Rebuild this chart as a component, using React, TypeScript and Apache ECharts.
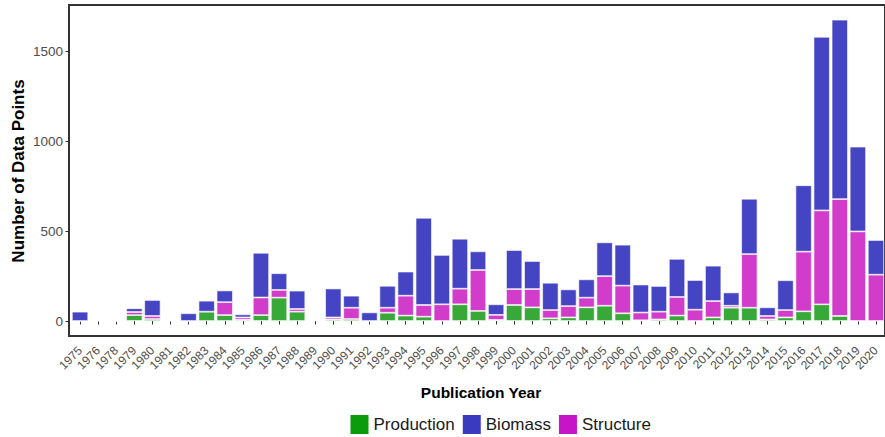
import React, { useEffect, useRef } from "react";
import * as echarts from "echarts";

const years = [
  "1975", "1976", "1978", "1979", "1980", "1981", "1982", "1983", "1984", "1985",
  "1986", "1987", "1988", "1989", "1990", "1991", "1992", "1993", "1994", "1995",
  "1996", "1997", "1998", "1999", "2000", "2001", "2002", "2003", "2004", "2005",
  "2006", "2007", "2008", "2009", "2010", "2011", "2012", "2013", "2014", "2015",
  "2016", "2017", "2018", "2019", "2020",
];
const production = [
  0, 2, 0, 33, 11, 2, 0, 52, 33, 7,
  33, 130, 52, 4, 9, 11, 0, 46, 30, 24,
  0, 93, 56, 6, 89, 76, 15, 20, 76, 85,
  43, 4, 9, 30, 0, 20, 74, 74, 9, 20,
  54, 93, 28, 0, 0,
];
const structure = [
  0, 0, 0, 17, 17, 0, 0, 0, 72, 13,
  98, 43, 15, 0, 11, 63, 0, 28, 111, 65,
  93, 87, 228, 28, 89, 102, 46, 63, 54, 165,
  154, 43, 43, 104, 63, 91, 11, 299, 19, 41,
  332, 523, 651, 499, 258,
];
const biomass = [
  52, 0, 0, 21, 89, 4, 43, 61, 65, 17,
  249, 93, 102, 0, 161, 67, 48, 122, 134, 486,
  275, 278, 104, 59, 217, 156, 152, 93, 102, 188,
  228, 156, 143, 212, 165, 197, 74, 308, 48, 166,
  370, 967, 999, 472, 193,
];
const yTicks = [0, 500, 1000, 1500];
const legendNames = ["Production", "Biomass", "Structure"];

const FONT = "'Liberation Sans', Arial, Helvetica, sans-serif";

export default function App() {
  const ref = useRef<HTMLDivElement>(null);
  useEffect(() => {
    document.body.style.margin = "0";
    const chart = echarts.init(ref.current!, null, { renderer: "svg" });
    const barStyle = (color: string) => ({
      color,
      borderColor: "rgba(255,255,255,0.75)",
      borderWidth: 0.8,
    });
    const borderLine = (x1: number, y1: number, x2: number, y2: number) => ({
      type: "line",
      silent: true,
      z: 100,
      shape: { x1, y1, x2, y2 },
      style: { stroke: "#333333", lineWidth: 2, fill: null },
    });
    chart.setOption({
      animation: false,
      textStyle: { fontFamily: FONT },
      grid: [
        { left: 71, top: 5, width: 820.4, height: 316 },
        {
          left: 69,
          top: 5,
          width: 824,
          height: 331,
          show: true,
          backgroundColor: "transparent",
          borderColor: "#333333",
          borderWidth: 2,
        },
      ],
      xAxis: [
        {
          type: "category",
          data: years,
          offset: 15,
          axisLine: { show: false },
          axisTick: {
            show: true,
            alignWithLabel: true,
            length: 3.5,
            lineStyle: { color: "#333333", width: 1 },
          },
          axisLabel: {
            rotate: 45,
            interval: 0,
            fontSize: 12,
            color: "#4d4d4d",
            margin: 12.5,
            fontFamily: FONT,
          },
        },
        { type: "value", gridIndex: 1, show: false, min: 0, max: 1 },
      ],
      yAxis: [
        {
          type: "value",
          min: 0,
          max: 1760,
          offset: 2,
          axisLine: { show: false },
          axisTick: {
            show: true,
            length: 3.5,
            customValues: yTicks,
            lineStyle: { color: "#333333", width: 1 },
          },
          axisLabel: {
            fontSize: 13.5,
            color: "#4d4d4d",
            margin: 6,
            fontFamily: FONT,
            customValues: yTicks,
            formatter: (v: number) => String(v),
          },
          splitLine: { show: false },
        },
        { type: "value", gridIndex: 1, show: false, min: 0, max: 1, splitLine: { show: false } },
      ],
      legend: {
        left: 350.5,
        top: 415,
        padding: 0,
        icon: "rect",
        itemWidth: 18,
        itemHeight: 19,
        itemGap: 8,
        selectedMode: false,
        textStyle: { fontSize: 17, color: "#1a1a1a", fontFamily: FONT },
        data: [
          { name: legendNames[0], itemStyle: { color: "#0b9b0b", borderWidth: 0 } },
          { name: legendNames[1], itemStyle: { color: "#3a3ac0", borderWidth: 0 } },
          { name: legendNames[2], itemStyle: { color: "#c814c8", borderWidth: 0 } },
        ],
      },
      graphic: [
        borderLine(69, 5, 893, 5),
        borderLine(69, 4, 69, 337),
        borderLine(69, 336, 893, 336),
        {
          type: "text",
          x: 18,
          y: 171,
          rotation: Math.PI / 2,
          style: {
            text: "Number of Data Points",
            fontSize: 17,
            fontWeight: "bold",
            fontFamily: FONT,
            fill: "#000000",
            align: "center",
            verticalAlign: "middle",
          },
        },
        {
          type: "text",
          x: 481,
          y: 392,
          style: {
            text: "Publication Year",
            fontSize: 15.5,
            fontWeight: "bold",
            fontFamily: FONT,
            fill: "#000000",
            align: "center",
            verticalAlign: "middle",
          },
        },
      ],
      series: [
        {
          name: "Production",
          type: "bar",
          stack: "total",
          barCategoryGap: "10%",
          data: production,
          itemStyle: barStyle("#38a838"),
        },
        {
          name: "Structure",
          type: "bar",
          stack: "total",
          barCategoryGap: "10%",
          data: structure,
          itemStyle: barStyle("#d23ccb"),
        },
        {
          name: "Biomass",
          type: "bar",
          stack: "total",
          barCategoryGap: "10%",
          data: biomass,
          itemStyle: barStyle("#4545c3"),
        },
      ],
    });
    return () => chart.dispose();
  }, []);
  return <div ref={ref} style={{ width: 885, height: 437 }} />;
}
